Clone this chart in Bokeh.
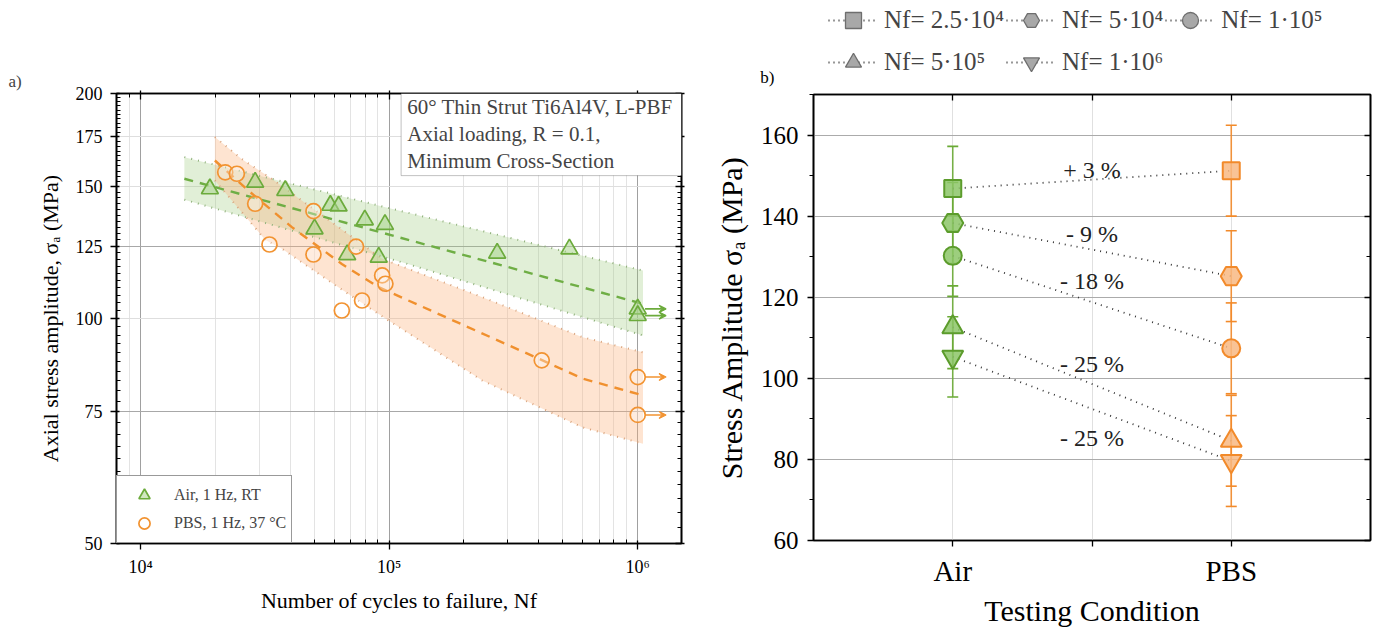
import numpy as np
from bokeh.plotting import figure
from bokeh.layouts import row, column
from bokeh.models import (ColumnDataSource, FixedTicker, LogAxis, LinearAxis, Grid,
                          Legend, LegendItem, Label, BoxAnnotation, Arrow, VeeHead,
                          Whisker, TeeHead, CustomJSTickFormatter, Range1d)
from bokeh.core.properties import value
from bokeh.embed import file_html
from bokeh.resources import INLINE

FONT = "Liberation Serif"

# ---------------- panel a) data (S-N) ----------------
air_N = [19000, 28900, 38200, 58000, 62600, 50100, 79800, 96200, 67800, 90800, 272000, 531000, 1000000, 1000000]
air_S = [149.1, 152.2, 148.3, 141.7, 141.4, 131.8, 135.5, 133.6, 121.7, 120.8, 122.3, 123.9, 103.0, 100.9]
air_runout = [False] * 12 + [True, True]

pbs_N = [21900, 24400, 28900, 33000, 49600, 49600, 73600, 64500, 77800, 93700, 96600, 411000, 1000000, 1000000]
pbs_S = [156.9, 156.2, 142.4, 125.6, 139.2, 121.8, 124.8, 102.5, 105.7, 114.2, 111.3, 87.9, 83.5, 74.3]
pbs_runout = [False] * 12 + [True, True]

# fitted curves and scatter bands
air_fit_N = [15000, 1050000]
air_fit_S = [153.8, 104.6]
air_up_N = [15000, 38200, 96600, 1050000]
air_up_S = [164.4, 152.2, 140.9, 115.9]
air_lo_N = [15000, 40600, 112700, 1050000]
air_lo_S = [144.2, 131.1, 118.9, 94.9]

pbs_fit_N = [19900, 27600, 40600, 64500, 90800, 414000, 600000, 1050000]
pbs_fit_S = [162.7, 147.6, 132.5, 118.3, 110.1, 87.9, 83.1, 78.9]
pbs_up_N = [19900, 25500, 33700, 93800, 237000, 600000, 1050000]
pbs_up_S = [174.9, 163.5, 153.8, 120.2, 106.8, 94.4, 90.1]
pbs_lo_N = [19900, 31700, 37000, 62700, 96600, 237000, 600000, 1050000]
pbs_lo_S = [153.0, 127.5, 124.0, 110.0, 100.0, 82.6, 71.5, 68.0]

x_tick_vals = [1e4, 1e5, 1e6]
y_tick_vals = [50, 75, 100, 125, 150, 175, 200]

info_lines = ["60° Thin Strut Ti6Al4V, L-PBF", "Axial loading, R = 0.1,", "Minimum Cross-Section"]
legend_a = ["Air, 1 Hz, RT", "PBS, 1 Hz, 37 °C"]

# ---------------- panel b) data ----------------
conditions = ["Air", "PBS"]
levels = ["2.5·10⁴", "5·10⁴", "1·10⁵", "5·10⁵", "1·10⁶"]
level_markers = ["square", "hex", "circle", "triangle", "inverted_triangle"]
air_mean = [146.8, 138.3, 130.2, 112.6, 105.3]
air_err = [10.4, 10.0, 10.0, 10.2, 9.9]
pbs_mean = [151.2, 125.2, 107.4, 84.6, 79.6]
pbs_err = [11.2, 11.2, 11.2, 11.2, 11.2]
pct_labels = ["+ 3 %", "- 9 %", "- 18 %", "- 25 %", "- 25 %"]
pct_label_y = [151.5, 135.7, 123.9, 103.5, 85.3]

GREEN = "#6cab3c"
GREEN_FILL = "#a9d38c"
ORANGE = "#f29331"
ORANGE_FILL = "#f8b883"

EMPTY_FMT_CODE = "return '';"


def style_axis(ax, label_size, tick_size):
    ax.axis_label_text_font = FONT
    ax.axis_label_text_font_style = "normal"
    ax.axis_label_text_font_size = label_size
    ax.axis_label_text_color = "black"
    ax.major_label_text_font = FONT
    ax.major_label_text_font_size = tick_size
    ax.major_label_text_color = "black"
    ax.axis_line_width = 1.6
    ax.axis_line_color = "black"
    ax.major_tick_line_width = 1.3
    ax.minor_tick_line_width = 1.0
    ax.major_tick_line_color = "black"
    ax.minor_tick_line_color = "black"


# ======================= panel a =======================
p1 = figure(width=700, height=632, x_axis_type="log", y_axis_type="log",
            x_range=Range1d(8000, 1.5e6), y_range=Range1d(50, 200),
            output_backend="svg", toolbar_location=None,
            min_border_left=116, min_border_right=19, min_border_top=93, min_border_bottom=89)
p1.outline_line_color = "black"
p1.outline_line_width = 1.6
p1.title.text = "a)"
p1.title.align = "left"
p1.title.offset = -108
p1.title.standoff = 0
p1.title.text_font = FONT
p1.title.text_font_size = "17px"
p1.title.text_font_style = "normal"

minor_x = [k * 10 ** e for e in (3, 4, 5) for k in range(2, 10)]
xt = FixedTicker(ticks=x_tick_vals, minor_ticks=minor_x)
minor_y = [float(v) for v in np.arange(52.5, 200, 2.5) if v not in y_tick_vals]
yt = FixedTicker(ticks=y_tick_vals, minor_ticks=minor_y)

sup_fmt = CustomJSTickFormatter(code="""
const sup = {"0":"⁰","1":"¹","2":"²","3":"³","4":"⁴","5":"⁵","6":"⁶","7":"⁷","8":"⁸","9":"⁹"};
const e = String(Math.round(Math.log10(tick)));
let s = "";
for (const c of e) { s += sup[c] || c; }
return "10" + s;
""")

p1.xaxis.ticker = xt
p1.xaxis.formatter = sup_fmt
p1.yaxis.ticker = yt
p1.xaxis.axis_label = "Number of cycles to failure, Nf"
p1.yaxis.axis_label = "Axial stress amplitude, σₐ (MPa)"
for ax in (p1.xaxis[0], p1.yaxis[0]):
    style_axis(ax, "22px", "18px")
    ax.major_tick_out = 6
    ax.major_tick_in = 3
    ax.minor_tick_out = 0
    ax.minor_tick_in = 4
p1.yaxis.major_label_standoff = 8
p1.yaxis.axis_label_standoff = 10
p1.xaxis.major_label_standoff = 7
p1.xaxis.axis_label_standoff = 8

top1 = LogAxis(ticker=xt, formatter=CustomJSTickFormatter(code=EMPTY_FMT_CODE))
right1 = LogAxis(ticker=yt, formatter=CustomJSTickFormatter(code=EMPTY_FMT_CODE))
for ax in (top1, right1):
    style_axis(ax, "1px", "1px")
    ax.major_tick_in = 6
    ax.major_tick_out = 3
    ax.minor_tick_in = 4
    ax.minor_tick_out = 0
    ax.major_label_standoff = 0
p1.add_layout(top1, "above")
p1.add_layout(right1, "right")

p1.xgrid.ticker = xt
p1.xgrid.grid_line_color = "#a0a0a0"
p1.xgrid.grid_line_width = 1
p1.xgrid.minor_grid_line_color = "#e3e3e3"
p1.ygrid.ticker = FixedTicker(ticks=[100, 150, 175])
p1.ygrid.grid_line_color = "#dedede"
p1.add_layout(Grid(dimension=1, ticker=FixedTicker(ticks=[75, 125]),
                   grid_line_color="#a8a8a8", grid_line_width=1))

# bands
p1.patch(x=air_up_N + air_lo_N[::-1], y=air_up_S + air_lo_S[::-1],
         fill_color="#9cc97c", fill_alpha=0.30, line_color=None)
p1.patch(x=pbs_up_N + pbs_lo_N[::-1], y=pbs_up_S + pbs_lo_S[::-1],
         fill_color="#fbb27a", fill_alpha=0.35, line_color=None)
for xs, ys in ((air_up_N, air_up_S), (air_lo_N, air_lo_S)):
    p1.line(xs, ys, line_color="#8fb07a", line_width=2, line_dash="1 6")
for xs, ys in ((pbs_up_N, pbs_up_S), (pbs_lo_N, pbs_lo_S)):
    p1.line(xs, ys, line_color="#d9a27a", line_width=2, line_dash="1 6")
p1.line(air_fit_N, air_fit_S, line_color="#6fae45", line_width=2.4, line_dash="9 7")
p1.line(pbs_fit_N, pbs_fit_S, line_color="#f0902e", line_width=2.4, line_dash="9 7")

r_air = p1.scatter(air_N, air_S, marker="triangle", size=17, line_color=GREEN,
                   fill_color=GREEN_FILL, fill_alpha=0.55, line_width=1.7)
r_pbs = p1.scatter(pbs_N, pbs_S, marker="circle", size=15, line_color=ORANGE,
                   fill_color="#ffffff", fill_alpha=0.3, line_width=1.7)

for Ns, Ss, ros, col in ((air_N, air_S, air_runout, GREEN), (pbs_N, pbs_S, pbs_runout, ORANGE)):
    for n, s, ro in zip(Ns, Ss, ros):
        if ro:
            p1.add_layout(Arrow(x_start=n * 1.07, y_start=s, x_end=n * 1.3, y_end=s,
                                line_color=col, line_width=1.6,
                                end=VeeHead(size=7, line_color=col, fill_color=col, line_width=1.2)))

leg1 = Legend(items=[LegendItem(label=legend_a[0], renderers=[r_air]),
                     LegendItem(label=legend_a[1], renderers=[r_pbs])],
              location="bottom_left", margin=0, padding=5, spacing=0,
              glyph_width=44, glyph_height=28, label_height=28, label_standoff=8,
              label_text_font=FONT, label_text_font_size="16px",
              border_line_color="#333333", border_line_width=1,
              background_fill_color="white", background_fill_alpha=1)
p1.add_layout(leg1)

# information box (top right corner of the frame)
p1.add_layout(BoxAnnotation(left=111700, bottom=155.3,
                            fill_color="white", fill_alpha=1, line_color="#333333", line_width=1))
for txt, yy in zip(info_lines, [191.6, 176.3, 162.7]):
    p1.add_layout(Label(x=118200, y=yy, text=txt,
                        text_font=FONT, text_font_size="21px", text_baseline="middle"))

# ======================= panel b legend strip =======================
leg_fig = figure(width=678, height=88, x_range=Range1d(0, 1), y_range=Range1d(0, 1),
                 x_axis_location=None, y_axis_location="left",
                 output_backend="svg", toolbar_location=None, min_border=0)
leg_fig.outline_line_color = None
leg_fig.grid.visible = False
# the panel tag "b)" is drawn as the single tick label of the strip's (invisible) left axis
leg_fig.yaxis.ticker = FixedTicker(ticks=[0.09], minor_ticks=[])
leg_fig.yaxis.formatter = CustomJSTickFormatter(code="return 'b)';")
leg_fig.yaxis.axis_line_color = None
leg_fig.yaxis.major_tick_line_color = None
leg_fig.yaxis.minor_tick_line_color = None
leg_fig.yaxis.major_label_standoff = 33
leg_fig.yaxis.major_label_text_font = FONT
leg_fig.yaxis.major_label_text_font_size = "17px"
leg_fig.yaxis.major_label_text_color = "black"

items = []
for lvl, mk in zip(levels, level_markers):
    # legend-only renderers: their single point lies outside the strip's visible range
    rl = leg_fig.line(x=[-5, -4], y=[-5, -5], line_color="#333333", line_width=1.8, line_dash="1 4")
    rs = leg_fig.scatter(x=[-5], y=[-5], marker=mk, fill_color="#a8a8a8", line_color="#6e6e6e", line_width=1.3)
    items.append(LegendItem(label="Nf= " + lvl, renderers=[rl, rs]))
leg2 = Legend(items=items, orientation="horizontal", ncols=3, location=(15, 6),
              margin=0, padding=0, spacing=2, glyph_width=50, glyph_height=40,
              label_height=40, label_standoff=6,
              label_text_font=FONT, label_text_font_size="25px",
              border_line_color=None, background_fill_alpha=0)
leg_fig.add_layout(leg2)

# ======================= panel b =======================
p2 = figure(width=678, height=544, x_range=Range1d(0.5, 2.5), y_range=Range1d(60, 170),
            output_backend="svg", toolbar_location=None,
            min_border_left=113, min_border_right=8, min_border_top=6, min_border_bottom=92)
p2.outline_line_color = "black"
p2.outline_line_width = 1.6

x_pos = [i + 1 for i in range(len(conditions))]
mid = sum(x_pos) / len(x_pos)
xt2 = FixedTicker(ticks=[x_pos[0], mid, x_pos[1]])
yt2 = FixedTicker(ticks=[60, 80, 100, 120, 140, 160], minor_ticks=[70, 90, 110, 130, 150, 170])
p2.xaxis.ticker = xt2
p2.xaxis.formatter = CustomJSTickFormatter(args=dict(cats=conditions), code="""
const r = Math.round(tick);
if (Math.abs(tick - r) > 1e-6) { return ""; }
const i = r - 1;
return (i >= 0 && i < cats.length) ? cats[i] : "";
""")
p2.yaxis.ticker = yt2
p2.xaxis.axis_label = "Testing Condition"
p2.yaxis.axis_label = "Stress Amplitude σₐ (MPa)"
style_axis(p2.xaxis[0], "30px", "29px")
style_axis(p2.yaxis[0], "30px", "25px")
p2.xaxis.major_tick_out = 6
p2.xaxis.major_tick_in = 0
p2.xaxis.major_label_standoff = 8
p2.xaxis.axis_label_standoff = 4
p2.yaxis.major_tick_out = 6
p2.yaxis.major_tick_in = 0
p2.yaxis.minor_tick_out = 4
p2.yaxis.minor_tick_in = 0
p2.yaxis.major_label_standoff = 9
p2.yaxis.axis_label_standoff = 10

top2 = LinearAxis(ticker=xt2, formatter=CustomJSTickFormatter(code=EMPTY_FMT_CODE))
right2 = LinearAxis(ticker=yt2, formatter=CustomJSTickFormatter(code=EMPTY_FMT_CODE))
for ax in (top2, right2):
    style_axis(ax, "1px", "1px")
    ax.major_tick_in = 6
    ax.major_tick_out = 0
    ax.minor_tick_in = 4
    ax.minor_tick_out = 0
    ax.major_label_standoff = 0
p2.add_layout(top2, "above")
p2.add_layout(right2, "right")

p2.xgrid.ticker = xt2
p2.xgrid.grid_line_color = "#e0e0e0"
p2.ygrid.ticker = FixedTicker(ticks=[80, 100, 120, 140, 160])
p2.ygrid.grid_line_color = "#ababab"
p2.ygrid.grid_line_width = 1.2

# dotted connectors
p2.segment(x0=[x_pos[0]] * len(levels), y0=air_mean, x1=[x_pos[1]] * len(levels), y1=pbs_mean,
           line_color="#333333", line_width=1.8, line_dash="1 5")

# error bars
for xp, means, errs, col in ((x_pos[0], air_mean, air_err, "#6aaa35"),
                             (x_pos[1], pbs_mean, pbs_err, "#f28a2a")):
    src = ColumnDataSource(dict(x=[xp] * len(means),
                                upper=[m + e for m, e in zip(means, errs)],
                                lower=[m - e for m, e in zip(means, errs)]))
    p2.add_layout(Whisker(source=src, base="x", upper="upper", lower="lower",
                          dimension="height", line_color=col, line_width=1.6, line_alpha=0.9,
                          upper_head=TeeHead(size=11, line_color=col, line_width=1.6),
                          lower_head=TeeHead(size=11, line_color=col, line_width=1.6)))

sizes = {"square": 17, "hex": 21, "circle": 18, "triangle": 21, "inverted_triangle": 21}
for i, mk in enumerate(level_markers):
    p2.scatter(x=[x_pos[0]], y=[air_mean[i]], marker=mk, size=sizes[mk],
               fill_color="#8cc567", fill_alpha=0.85, line_color="#5c9c2c", line_width=2)
    p2.scatter(x=[x_pos[1]], y=[pbs_mean[i]], marker=mk, size=sizes[mk],
               fill_color=ORANGE_FILL, fill_alpha=0.85, line_color="#f28a2a", line_width=2)

p2.text(x=[mid] * len(pct_labels), y=pct_label_y, text=pct_labels,
        text_font=value(FONT), text_font_size="24px", text_align="center",
        text_baseline="middle", text_color="#222222")

layout = row(p1, column(leg_fig, p2, spacing=0), spacing=0)
open("out.html", "w").write(file_html(layout, INLINE))
